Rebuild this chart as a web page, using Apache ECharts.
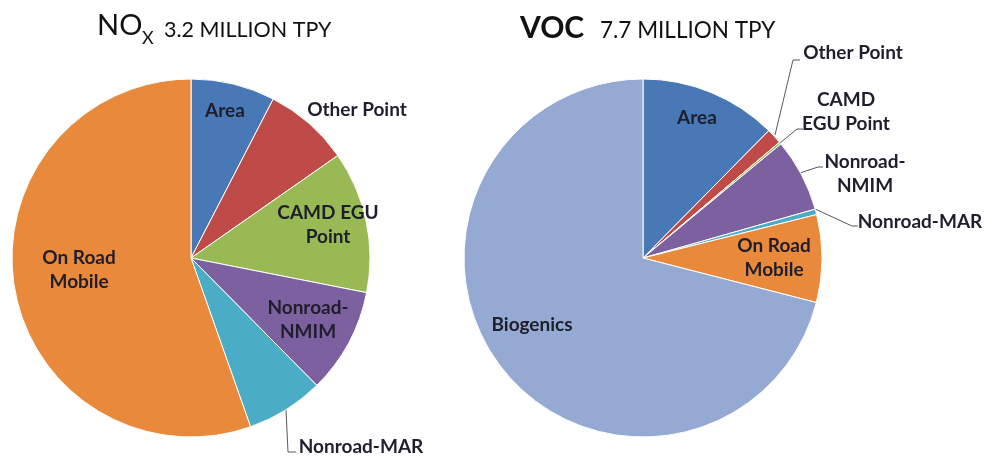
<!DOCTYPE html>
<html><head><meta charset="utf-8">
<script src="https://cdn.jsdelivr.net/npm/echarts@6/dist/echarts.min.js"></script>
<style>html,body{margin:0;padding:0;background:#fff}#c{width:994px;height:456px}</style>
</head><body><div id="c"></div>
<script>
// ---- data ----
const noxCategories = ['Area', 'Other Point', 'CAMD EGU Point', 'Nonroad-NMIM', 'Nonroad-MAR', 'On Road Mobile'];
const noxValues = [7.6, 7.7, 12.8, 9.5, 7.0, 55.4];
const noxLabels = ['Area', 'Other Point', 'CAMD EGU\nPoint', 'Nonroad-\nNMIM', 'Nonroad-MAR', 'On Road\nMobile'];

const vocCategories = ['Area', 'Other Point', 'CAMD EGU Point', 'Nonroad-NMIM', 'Nonroad-MAR', 'On Road Mobile', 'Biogenics'];
const vocValues = [12.4, 1.4, 0.2, 6.6, 0.5, 7.9, 71.0];
const vocLabels = ['Area', 'Other Point', 'CAMD\nEGU Point', 'Nonroad-\nNMIM', 'Nonroad-MAR', 'On Road\nMobile', 'Biogenics'];

// ---- styles ----
const colorMap = {
  'Area': '#4878B6',
  'Other Point': '#BE4B48',
  'CAMD EGU Point': '#98B954',
  'Nonroad-NMIM': '#7D60A0',
  'Nonroad-MAR': '#4AACC5',
  'On Road Mobile': '#E8893C',
  'Biogenics': '#94AAD3'
};
const FONT = 'Lato, "Open Sans", sans-serif';
const TXT = '#1e1e2c';

// label placement (pixel layout of text, not of marks)
const noxLayout = [
  {x: 225, y: 111},
  {x: 357, y: 110},
  {x: 328, y: 225},
  {x: 308, y: 320},
  {x: 361, y: 447, line: [[286, 410], [288, 452], [296, 452]]},
  {x: 79, y: 270}
];
const vocLayout = [
  {x: 697, y: 118},
  {x: 853, y: 53, line: [[775, 135], [793, 60], [800, 60]]},
  {x: 846, y: 112, line: [[780, 143], [797, 129], [803, 129]]},
  {x: 865, y: 174, line: [[800, 173], [818, 167], [823, 167]]},
  {x: 920, y: 222, line: [[813, 208], [852, 226], [858, 226]]},
  {x: 774, y: 258},
  {x: 532, y: 325}
];

function buildData(cats, vals, labels, layout) {
  return cats.map((c, i) => {
    const hasLine = !!layout[i].line;
    return {
      name: c,
      value: vals[i],
      itemStyle: {color: colorMap[c]},
      label: {formatter: labels[i], position: hasLine ? 'outside' : 'inside'},
      labelLine: {show: hasLine}
    };
  });
}
function layoutFn(layout) {
  return function (params) {
    const L = layout[params.dataIndex];
    const o = {x: L.x, y: L.y, align: 'center', verticalAlign: 'middle'};
    if (L.line) o.labelLinePoints = L.line;
    return o;
  };
}
const baseSeries = {
  type: 'pie',
  startAngle: 90,
  clockwise: true,
  avoidLabelOverlap: false,
  animation: false,
  itemStyle: {borderColor: '#ffffff', borderWidth: 1},
  label: {show: true, color: TXT, fontFamily: FONT, fontWeight: 'bold', fontSize: 19, lineHeight: 24, align: 'center'},
  labelLine: {lineStyle: {color: '#595959', width: 1}},
  emphasis: {disabled: true}
};

const chart = echarts.init(document.getElementById('c'));
chart.setOption({
  backgroundColor: '#ffffff',
  animation: false,
  title: [
    {text: 'NO', left: 92, top: 6, textStyle: {fontFamily: FONT, fontWeight: 'normal', fontSize: 29, color: '#111'}},
    {text: 'X', left: 137, top: 24, textStyle: {fontFamily: FONT, fontWeight: 'normal', fontSize: 18, color: '#111'}},
    {text: '3.2 MILLION TPY', left: 159, top: 14, textStyle: {fontFamily: FONT, fontWeight: 'normal', fontSize: 21.5, color: '#111'}},
    {text: 'VOC', left: 515, top: 8, textStyle: {fontFamily: FONT, fontWeight: 'bold', fontSize: 30, color: '#111'}},
    {text: '7.7 MILLION TPY', left: 595, top: 14, textStyle: {fontFamily: FONT, fontWeight: 'normal', fontSize: 22.5, color: '#111'}}
  ],
  series: [
    Object.assign({}, baseSeries, {
      name: 'NOx',
      center: [191, 258],
      radius: 179,
      data: buildData(noxCategories, noxValues, noxLabels, noxLayout),
      labelLayout: layoutFn(noxLayout)
    }),
    Object.assign({}, baseSeries, {
      name: 'VOC',
      center: [643, 258],
      radius: 179,
      data: buildData(vocCategories, vocValues, vocLabels, vocLayout),
      labelLayout: layoutFn(vocLayout)
    })
  ]
});
</script>
</body></html>
